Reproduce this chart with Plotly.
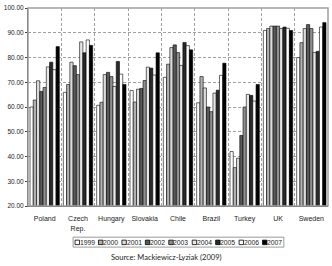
import plotly.graph_objects as go

countries = ["Poland", "Czech<br>Rep.", "Hungary", "Slovakia", "Chile", "Brazil", "Turkey", "UK", "Sweden"]
years = ["1999", "2000", "2001", "2002", "2003", "2004", "2005", "2006", "2007"]

poland   = [60.0, 62.8, 70.6, 66.3, 67.9, 76.2, 78.1, 75.1, 84.4]
czech    = [65.9, 69.1, 78.1, 76.7, 73.1, 86.3, 81.9, 87.1, 84.9]
hungary  = [60.7, 61.9, 73.1, 74.0, 72.3, 68.3, 78.4, 73.3, 69.1]
slovakia = [66.7, 62.0, 67.2, 67.5, 70.7, 76.1, 75.7, 72.9, 81.9]
chile    = [72.0, 77.3, 84.0, 85.1, 82.0, 76.8, 86.1, 84.8, 83.1]
brazil   = [61.7, 72.3, 67.7, 60.0, 58.1, 65.6, 66.8, 72.8, 77.7]
turkey   = [42.0, 35.5, 39.3, 48.5, 60.0, 65.1, 64.7, 62.4, 69.1]
uk       = [90.9, 91.7, 92.7, 92.7, 92.7, 91.7, 92.3, 91.8, 90.9]
sweden   = [80.0, 86.0, 91.7, 93.3, 91.7, 82.0, 82.5, 92.3, 94.1]

rows = [poland, czech, hungary, slovakia, chile, brazil, turkey, uk, sweden]
colors = ["#ffffff", "#b0b0b0", "#dcdcdc", "#5a5a5a", "#909090", "#e8e8e8", "#2a2a2a", "#ffffff", "#000000"]

W, H = 332, 266
L, R, T, B = 22, 4, 6, 60
pw, ph = W - L - R, H - T - B

fig = go.Figure()
for i, yr in enumerate(years):
    fig.add_trace(go.Bar(
        x=countries, y=[r[i] for r in rows], name=yr,
        marker=dict(color=colors[i], line=dict(color="#000000", width=0.6)),
        showlegend=False,
    ))

def px(x):
    return (x - L) / pw

def py(y):
    return 1 - (y - T) / ph

shapes = [dict(type="rect", xref="paper", yref="paper", x0=0, x1=1, y0=0, y1=1,
               line=dict(color="#a0a0a0", width=1.5), layer="above")]
annotations = []

# legend box
shapes.append(dict(type="rect", xref="paper", yref="paper", x0=px(68), x1=px(283),
                   y0=py(247.5), y1=py(237.5), line=dict(color="#808080", width=0.8),
                   fillcolor="#ffffff"))
step = 23.9
for i, yr in enumerate(years):
    x0 = 70 + i * step
    shapes.append(dict(type="rect", xref="paper", yref="paper", x0=px(x0), x1=px(x0 + 4.5),
                       y0=py(245), y1=py(240.5), fillcolor=colors[i],
                       line=dict(color="#000000", width=0.8)))
    annotations.append(dict(text=yr, xref="paper", yref="paper", x=px(x0 + 4.8), y=py(242.7),
                            xanchor="left", yanchor="middle", showarrow=False, borderpad=0,
                            borderwidth=0,
                            font=dict(family="Liberation Sans", size=6.8, color="#222222")))

annotations.append(dict(text="Source: Mackiewicz-Lyziak (2009)", xref="paper", yref="paper",
                        x=px(163), y=py(258), xanchor="center", yanchor="middle", showarrow=False,
                        font=dict(family="Lato", size=7.5, color="#222222")))

fig.update_layout(
    width=W, height=H,
    margin=dict(l=L, r=R, t=T, b=B, pad=0),
    paper_bgcolor="#ffffff", plot_bgcolor="#ffffff",
    barmode="group", bargap=0.12, bargroupgap=0,
    shapes=shapes, annotations=annotations,
    font=dict(family="Liberation Sans", size=7, color="#222222"),
)
fig.update_xaxes(
    type="category", tickson="boundaries", showgrid=True, gridcolor="#a0a0a0",
    griddash="3px,2px", gridwidth=0.8, showline=True, linecolor="#404040", linewidth=1,
    ticks="", tickangle=0, ticklabelstandoff=6,
    tickfont=dict(family="Liberation Sans", size=7, color="#222222"),
)
fig.update_yaxes(
    range=[20, 100], dtick=10, tickformat=".2f", showgrid=True, gridcolor="#a0a0a0",
    griddash="3px,2px", gridwidth=0.8, showline=True, linecolor="#404040", linewidth=1,
    ticks="outside", ticklen=2, tickcolor="#404040", zeroline=False,
    tickfont=dict(family="Liberation Sans", size=6.5, color="#222222"),
)

fig.write_html("out.html")
